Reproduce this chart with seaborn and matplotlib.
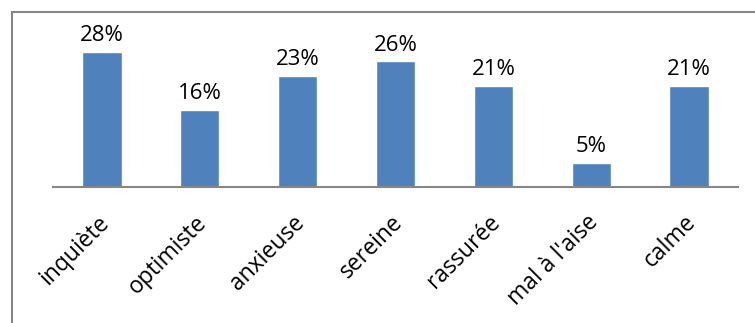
import matplotlib
matplotlib.use("Agg")
import matplotlib.pyplot as plt
import matplotlib.transforms as mtrans
import seaborn as sns
import pandas as pd
from matplotlib.patches import Rectangle

categories = ["inquiète", "optimiste", "anxieuse", "sereine", "rassurée", "mal à l'aise", "calme"]
values = [28, 16, 23, 26, 21, 5, 21]
value_labels = ["28%", "16%", "23%", "26%", "21%", "5%", "21%"]

sns.set_theme(style="white")
plt.rcParams['font.family'] = ['Open Sans', 'DejaVu Sans']

df = pd.DataFrame({"cat": categories, "val": values})

W, H = 755, 323
fig = plt.figure(figsize=(W / 100, H / 100), dpi=100)
ax = fig.add_axes([53 / W, (H - 187) / H, (738 - 53) / W, (187 - 42) / H])

sns.barplot(data=df, x="cat", y="val", color="#4F81BD", saturation=1, width=0.4, ax=ax)
ax.set_ylim(0, 30)
ax.set_xlim(-0.5, len(categories) - 0.5)
ax.set_xlabel("")
ax.set_ylabel("")
ax.set_yticks([])
for s in ["top", "right", "left"]:
    ax.spines[s].set_visible(False)
ax.spines["bottom"].set_color("#868686")
ax.spines["bottom"].set_linewidth(1.5)
ax.tick_params(axis="x", length=0, pad=17)

for p, lab in zip(ax.patches, value_labels):
    ax.annotate(lab, (p.get_x() + p.get_width() / 2, p.get_height()),
                xytext=(0, 4), textcoords="offset points",
                ha="center", va="bottom", fontsize=16, color="black", annotation_clip=False)

ax.set_xticks(range(len(categories)))
ax.set_xticklabels(categories, rotation=45, ha="right", rotation_mode="anchor",
                   fontsize=16.5, color="black")
shift = mtrans.ScaledTranslation(-5 / 100, 0, fig.dpi_scale_trans)
for t in ax.get_xticklabels():
    t.set_transform(t.get_transform() + shift)

# outer frame (chart border)
fig.patches.append(Rectangle((12 / W, -0.1), 1.2, (H - 12) / H + 0.1,
                             transform=fig.transFigure, fill=False,
                             edgecolor="#878787", linewidth=1.5))

fig.savefig("out.png", dpi=100)
